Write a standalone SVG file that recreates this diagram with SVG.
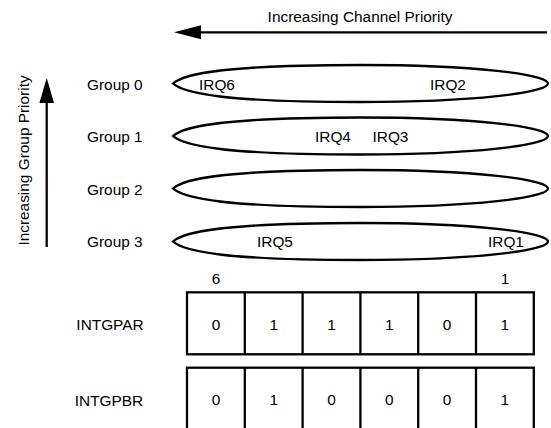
<svg xmlns="http://www.w3.org/2000/svg" width="551" height="428" viewBox="0 0 551 428">
<style>
text{font-family:"Liberation Sans",Arial,sans-serif;font-size:15.4px;fill:#000}
.m{text-anchor:middle}
.ell{fill:none;stroke:#000;stroke-width:2.3}
.box{fill:none;stroke:#000;stroke-width:2.3}
.ln{stroke:#000;stroke-width:2.3;fill:none}
</style>
<defs>
<path id="lens" d="M173,0 C184,-10 225,-18.5 360,-18.5 C475,-18.5 548,-9 548,0 C548,9 475,18.5 360,18.5 C225,18.5 184,10 173,0 Z"/>
</defs>
<rect width="551" height="428" fill="#fff"/>
<g id="connectors">
<line class="ln" x1="547" y1="32.3" x2="198" y2="32.3"/>
<polygon points="174,32.3 201,25.3 201,39.3" fill="#000"/>
<line class="ln" x1="46.7" y1="247" x2="46.7" y2="100"/>
<polygon points="46.7,78 39.4,103 54,103" fill="#000"/>
</g>
<text id="channel-label" class="m" x="360" y="22">Increasing Channel Priority</text>
<text id="group-priority-label" class="m" transform="translate(29,160.5) rotate(-90)">Increasing Group Priority</text>
<g id="group0">
<text x="87" y="89.5">Group 0</text>
<use href="#lens" class="ell" transform="translate(0,83.5)"/>
<text x="199" y="89.5">IRQ6</text>
<text x="430" y="89.5">IRQ2</text>
</g>
<g id="group1">
<text x="87" y="142">Group 1</text>
<use href="#lens" class="ell" transform="translate(0,136)"/>
<text x="315" y="142">IRQ4</text>
<text x="372.5" y="142">IRQ3</text>
</g>
<g id="group2">
<text x="87" y="194.5">Group 2</text>
<use href="#lens" class="ell" transform="translate(0,188.5)"/>
</g>
<g id="group3">
<text x="87" y="247">Group 3</text>
<use href="#lens" class="ell" transform="translate(0,241.5)"/>
<text x="257" y="247">IRQ5</text>
<text x="488" y="247">IRQ1</text>
</g>
<g id="bit-numbers">
<text class="m" x="216" y="284">6</text>
<text class="m" x="505" y="284">1</text>
</g>
<g id="intgpar">
<text class="m" x="110" y="330">INTGPAR</text>
<rect class="box" x="187" y="292.3" width="346.8" height="62"/>
<path class="ln" d="M244.8,292.3V354.3M302.6,292.3V354.3M360.4,292.3V354.3M418.2,292.3V354.3M476,292.3V354.3"/>
<text class="m" x="216" y="330">0</text>
<text class="m" x="273.7" y="330">1</text>
<text class="m" x="331.5" y="330">1</text>
<text class="m" x="389.3" y="330">1</text>
<text class="m" x="447.1" y="330">0</text>
<text class="m" x="504.9" y="330">1</text>
</g>
<g id="intgpbr">
<text class="m" x="109" y="406">INTGPBR</text>
<rect class="box" x="187" y="367.7" width="346.8" height="70"/>
<path class="ln" d="M244.8,367.7V430M302.6,367.7V430M360.4,367.7V430M418.2,367.7V430M476,367.7V430"/>
<text class="m" x="216" y="404.5">0</text>
<text class="m" x="273.7" y="404.5">1</text>
<text class="m" x="331.5" y="404.5">0</text>
<text class="m" x="389.3" y="404.5">0</text>
<text class="m" x="447.1" y="404.5">0</text>
<text class="m" x="504.9" y="404.5">1</text>
</g>
</svg>
